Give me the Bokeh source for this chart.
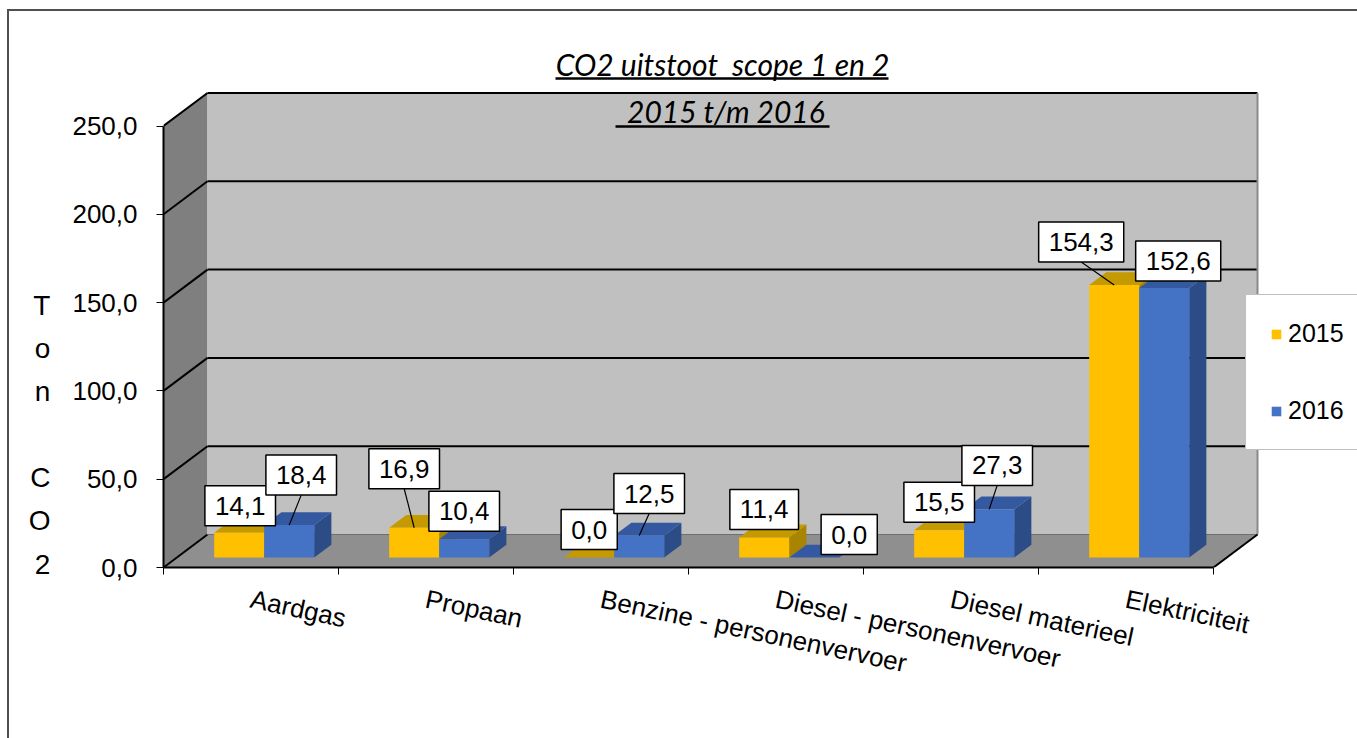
import numpy as np
from bokeh.plotting import figure
from bokeh.models import Range1d, FixedTicker, ColumnDataSource, Legend, LegendItem
from bokeh.core.properties import value
from bokeh.embed import file_html
from bokeh.resources import INLINE

# ---------------- data ----------------
categories = ["Aardgas", "Propaan", "Benzine - personenvervoer",
              "Diesel - personenvervoer", "Diesel materieel", "Elektriciteit"]
series_names = ["2015", "2016"]
values_2015 = [14.1, 16.9, 0.0, 11.4, 15.5, 154.3]
values_2016 = [18.4, 10.4, 12.5, 0.0, 27.3, 152.6]
y_ticks = [0, 50, 100, 150, 200, 250]
y_tick_labels = ["0,0", "50,0", "100,0", "150,0", "200,0", "250,0"]
title_line1 = "CO2 uitstoot \u00a0scope 1 en 2"
title_line2 = "\u00a02015 t/m 2016"
y_title = "Ton CO2"

# ---------------- styling / geometry ----------------
FONT = "Liberation Sans"
BL = 163                      # left border (px)
FH = 567                      # frame height (px)
FW = 1357 - BL                # frame width
BB = 738 - FH                 # bottom border
PX_X = 175.0                  # px per category
PX_Y = 1.766                  # px per ton
DX = 44 / PX_X                # depth offset (data units)
DY = 33 / PX_Y
F1, F2 = 0.30, 0.69           # bar front / back depth fraction
BW = 50 / PX_X                # bar width
C_Y = ["#FFC000", "#C49A00", "#A88400"]   # front, top, side
C_B = ["#4472C4", "#3559A0", "#2B4C86"]
# label offsets (screen px, y down) per bar
OFF_2015 = [(1, -27), (-10, -59), (0, -28), (0, -28), (0, -28), (-33, -43)]
OFF_2016 = [(12, -50), (0, -28), (10, -42), (35, -23), (8, -44), (14, -27)]

PAGE_L, PAGE_B = BL, FH


def px2x(px):
    return (px - PAGE_L) / PX_X


def py2y(py):
    return (PAGE_B - py) / PX_Y


n = len(categories)
ymax = max(y_ticks)

p = figure(title=None, x_range=Range1d(0, FW / PX_X), y_range=Range1d(0, FH / PX_Y),
           frame_width=FW, frame_height=FH,
           min_border_left=BL, min_border_bottom=BB, min_border_top=0, min_border_right=0,
           output_backend="svg", toolbar_location=None,
           background_fill_color=None, border_fill_color=None, outline_line_color=None)
p.styles = {"background": "linear-gradient(#505050,#505050) 7px 9px / 2px 100% no-repeat, "
                          "linear-gradient(#505050,#505050) 7px 9px / 100% 2px no-repeat"}
p.xgrid.visible = False
p.ygrid.visible = False

# ---------------- walls & floor ----------------
p.patch([0, DX, DX, 0], [0, DY, ymax + DY, ymax], fill_color="#7f7f7f", line_color=None)
p.patch([DX, n + DX, n + DX, DX], [DY, DY, ymax + DY, ymax + DY], fill_color="#c0c0c0", line_color=None)
p.patch([0, n, n + DX, DX], [0, 0, DY, DY], fill_color="#8f8f8f", line_color=None)

t = np.array(y_ticks, dtype=float)
p.segment(x0=np.zeros_like(t), y0=t, x1=np.full_like(t, DX), y1=t + DY, line_color="black", line_width=2)
p.segment(x0=np.full(len(t) - 1, DX), y0=t[1:] + DY, x1=np.full(len(t) - 1, n + DX), y1=t[1:] + DY,
          line_color="black", line_width=2)
p.segment(x0=[DX], y0=[DY], x1=[n + DX], y1=[DY], line_color="#6f6f6f", line_width=1)
p.segment(x0=[n + DX], y0=[DY], x1=[n + DX], y1=[ymax + DY], line_color="#8a8a8a", line_width=2)
p.segment(x0=[n], y0=[0], x1=[n + DX], y1=[DY], line_color="black", line_width=2)

# ---------------- bars ----------------
centers = np.arange(n) + 0.5
ex, ey = (F2 - F1) * DX, (F2 - F1) * DY
base = F1 * DY


def faces(x0s, vals):
    fr, tp, sd = ([], []), ([], []), ([], [])
    for x0, v in zip(x0s, vals):
        x1 = x0 + BW
        top = base + v
        fr[0].append([x0, x1, x1, x0]); fr[1].append([base, base, top, top])
        tp[0].append([x0, x1, x1 + ex, x0 + ex]); tp[1].append([top, top, top + ey, top + ey])
        sd[0].append([x1, x1 + ex, x1 + ex, x1]); sd[1].append([base, base + ey, top + ey, top])
    return fr, tp, sd


front_renderers = []
label_rows = {"x": [], "y": [], "text": [], "ox": [], "oy": []}
leader = {"x0": [], "y0": [], "x1": [], "y1": []}
for vals, cols, shift, offs in [(values_2015, C_Y, -BW, OFF_2015), (values_2016, C_B, 0.0, OFF_2016)]:
    x0s = centers + shift + F1 * DX
    fr, tp, sd = faces(x0s, vals)
    p.patches(sd[0], sd[1], fill_color=cols[2], line_color=None)
    p.patches(tp[0], tp[1], fill_color=cols[1], line_color=None)
    r = p.patches(fr[0], fr[1], fill_color=cols[0], line_color=None)
    front_renderers.append(r)
    for x0, v, (ox, oy) in zip(x0s, vals, offs):
        xc = x0 + BW / 2
        yt = base + v
        label_rows["x"].append(xc); label_rows["y"].append(yt)
        label_rows["text"].append(f"{v:.1f}".replace(".", ","))
        label_rows["ox"].append(ox); label_rows["oy"].append(oy)
        if -oy > 35:
            leader["x0"].append(xc); leader["y0"].append(yt)
            leader["x1"].append(xc + ox / PX_X); leader["y1"].append(yt + (-oy - 20) / PX_Y)

p.segment(x0="x0", y0="y0", x1="x1", y1="y1", source=ColumnDataSource(leader),
          line_color="black", line_width=1.2)
p.text(x="x", y="y", text="text", x_offset="ox", y_offset="oy", source=ColumnDataSource(label_rows),
       text_font=value(FONT), text_font_size="26px", text_color="black",
       text_align="center", text_baseline="middle",
       background_fill_color="white", border_line_color="black", border_line_width=1.5,
       padding=dict(left=10, right=10, top=11, bottom=11))

# ---------------- title ----------------
p.text(x=[px2x(722)], y=[py2y(63)], text=[title_line1], text_font=value("Lato"),
       text_font_style="italic", text_font_size="30px", text_align="center", text_baseline="middle",
       text_color="black")
p.text(x=[px2x(722)], y=[py2y(110)], text=[title_line2], text_font=value("Lato"),
       text_font_style="italic", text_font_size="30px", text_align="center", text_baseline="middle",
       text_color="black")
p.segment(x0=[px2x(555), px2x(615)], y0=[py2y(78), py2y(126)], x1=[px2x(888), px2x(829)],
          y1=[py2y(78), py2y(126)], line_color="black", line_width=2.5)

# ---------------- axes ----------------
ya = p.yaxis[0]
ya.ticker = FixedTicker(ticks=y_ticks)
ya.major_label_overrides = {k: v for k, v in zip(y_ticks, y_tick_labels)}
ya.bounds = (0, ymax)
ya.axis_line_color = "black"
ya.axis_line_width = 2
ya.major_tick_in = 0
ya.major_tick_out = 7
ya.major_tick_line_color = "black"
ya.minor_tick_line_color = None
ya.major_label_standoff = 19
ya.major_label_text_font = FONT
ya.major_label_text_font_size = "26px"
ya.major_label_text_color = "black"
stacked = [c if c != " " else "\u00a0" for c in y_title]
ya.axis_label = "\n".join(["\u00a0"] * 7 + stacked)
ya.axis_label_orientation = "horizontal"
ya.axis_label_text_font = FONT
ya.axis_label_text_font_size = "28px"
ya.axis_label_text_font_style = "normal"
ya.axis_label_text_color = "black"
ya.axis_label_text_line_height = 1.39
ya.axis_label_standoff = 19

xa = p.xaxis[0]
xa.ticker = FixedTicker(ticks=list(centers), minor_ticks=list(range(n + 1)))
xa.major_label_overrides = {float(c): lab for c, lab in zip(centers, categories)}
xa.bounds = (0, n)
xa.axis_line_color = "black"
xa.axis_line_width = 2
xa.major_tick_line_color = None
xa.major_tick_in = 0
xa.major_tick_out = 7
xa.minor_tick_line_color = "black"
xa.minor_tick_in = 0
xa.minor_tick_out = 7
xa.major_label_orientation = -0.21
xa.major_label_standoff = 24
xa.major_label_text_font = FONT
xa.major_label_text_font_size = "26px"
xa.major_label_text_color = "black"

# ---------------- legend ----------------
legend = Legend(items=[LegendItem(label=s, renderers=[r]) for s, r in zip(series_names, front_renderers)],
                location=(1082, 117), orientation="vertical",
                padding=24, spacing=48, margin=0,
                glyph_width=12, glyph_height=12, label_height=24, label_standoff=6,
                label_text_font=FONT, label_text_font_size="25px", label_text_color="black",
                border_line_color="#808080", border_line_width=1,
                background_fill_color="white", background_fill_alpha=1.0)
p.add_layout(legend)

open("out.html", "w").write(file_html(p, INLINE))
